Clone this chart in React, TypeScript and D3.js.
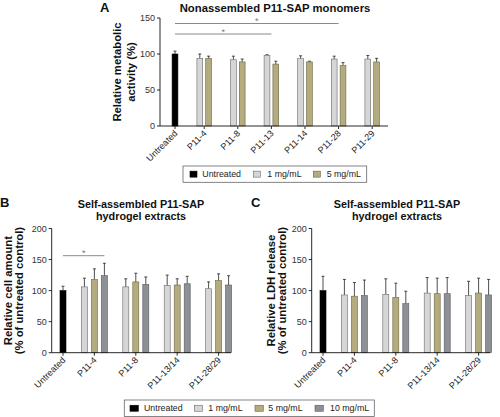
import React from "react";
import * as d3 from "d3";

// ---------- data ----------
const catsA = ["P11-4", "P11-8", "P11-13", "P11-14", "P11-28", "P11-29"];
const untreatedA = 100;
const untreatedAErr = 4;
const a1mg = [94, 92, 98, 93.5, 93, 93];
const a1mgErr = [6, 5, 1, 4, 4, 5];
const a5mg = [94, 89, 86, 89, 84, 89];
const a5mgErr = [3, 4, 4, 1, 4, 5];
const ticksA = [0, 50, 100, 150];
const sigA = [
  { to: "P11-28", level: 0 },
  { to: "P11-13", level: 1 },
];

const catsBC = ["P11-4", "P11-8", "P11-13/14", "P11-28/29"];
const untreatedB = 100;
const untreatedBErr = 7;
const b1mg = [106, 106, 108, 103];
const b1mgErr = [14, 13, 17, 11];
const b5mg = [118, 114, 109, 116];
const b5mgErr = [17, 14, 10, 11];
const b10mg = [124, 110, 111, 109];
const b10mgErr = [20, 12, 12, 15];

const untreatedC = 100;
const untreatedCErr = 23;
const c1mg = [93, 94, 96, 92];
const c1mgErr = [25, 25, 25, 23];
const c5mg = [91, 89, 95, 96];
const c5mgErr = [22, 23, 25, 24];
const c10mg = [92, 79, 95, 93];
const c10mgErr = [25, 20, 26, 25];
const ticksBC = [0, 50, 100, 150, 200];

const legendA = ["Untreated", "1 mg/mL", "5 mg/mL"];
const legendBC = ["Untreated", "1 mg/mL", "5 mg/mL", "10 mg/mL"];

// ---------- style ----------
const FONT = "'Liberation Sans', Arial, Helvetica, sans-serif";
const COLORS = ["#000000", "#d6d6d6", "#b4ac7e", "#8d9095"];
const STROKES = ["#000000", "#6a6a6a", "#6b6542", "#55585c"];

type Bar = { x: number; v: number; e: number; c: number };

function layout(
  x0: number,
  pad: number,
  s: number,
  g: number,
  untreated: number,
  untreatedErr: number,
  series: number[][],
  errs: number[][]
) {
  const bars: Bar[] = [];
  const ticks: number[] = [];
  let cur = x0 + pad;
  bars.push({ x: cur, v: untreated, e: untreatedErr, c: 0 });
  ticks.push(cur);
  cur += s / 2 + g;
  const n = series[0].length;
  for (let i = 0; i < n; i++) {
    const start = cur;
    for (let k = 0; k < series.length; k++) {
      bars.push({ x: cur + s / 2, v: series[k][i], e: errs[k][i], c: k + 1 });
      cur += s;
    }
    ticks.push((start + cur) / 2);
    cur += g;
  }
  return { bars, ticks };
}

type PanelProps = {
  letter: string;
  letterX: number;
  letterY: number;
  title: string[];
  titleX: number;
  titleY: number;
  titleSize: number;
  ylabel: string[];
  ylabelX: number[];
  ylabelY: number;
  ylabelSize: number;
  x0: number;
  x1: number;
  yTop: number;
  yBot: number;
  ymax: number;
  ticks: number[];
  cats: string[];
  bars: Bar[];
  tickX: number[];
  barW: number;
  sig: { from: number; to: number; y: number }[];
};

function Panel(p: PanelProps) {
  const y = d3.scaleLinear().domain([0, p.ymax]).range([p.yBot, p.yTop]);
  const labels = ["Untreated", ...p.cats];
  return (
    <g fontFamily={FONT}>
      <text x={p.letterX} y={p.letterY} fontSize={13} fontWeight="bold" fill="#111">
        {p.letter}
      </text>
      {p.title.map((t, i) => (
        <text
          key={i}
          x={p.titleX}
          y={p.titleY + i * 12}
          fontSize={p.titleSize}
          fontWeight="bold"
          textAnchor="middle"
          fill="#111"
        >
          {t}
        </text>
      ))}
      {p.ylabel.map((t, i) => (
        <text
          key={i}
          transform={`translate(${p.ylabelX[i]},${p.ylabelY}) rotate(-90)`}
          fontSize={p.ylabelSize}
          fontWeight="bold"
          textAnchor="middle"
          fill="#111"
        >
          {t}
        </text>
      ))}
      {/* y axis */}
      <line x1={p.x0} x2={p.x0} y1={y(0)} y2={y(p.ymax)} stroke="#111" strokeWidth={0.9} />
      {p.ticks.map((t) => (
        <g key={t}>
          <line x1={p.x0 - 3} x2={p.x0} y1={y(t)} y2={y(t)} stroke="#111" strokeWidth={0.9} />
          <text
            x={p.x0 - 5}
            y={y(t)}
            dy="0.35em"
            fontSize={9}
            textAnchor="end"
            fill="#333"
          >
            {t}
          </text>
        </g>
      ))}
      {/* bars */}
      {p.bars.map((b, i) => (
        <g key={i}>
          <line
            x1={b.x}
            x2={b.x}
            y1={y(b.v)}
            y2={y(b.v + b.e)}
            stroke="#222"
            strokeWidth={0.8}
          />
          <line
            x1={b.x - 1.5}
            x2={b.x + 1.5}
            y1={y(b.v + b.e)}
            y2={y(b.v + b.e)}
            stroke="#222"
            strokeWidth={0.8}
          />
          <rect
            x={b.x - p.barW / 2}
            y={y(b.v)}
            width={p.barW}
            height={y(0) - y(b.v)}
            fill={COLORS[b.c]}
            stroke={STROKES[b.c]}
            strokeWidth={0.6}
          />
        </g>
      ))}
      {/* x axis */}
      <line x1={p.x0} x2={p.x1} y1={y(0)} y2={y(0)} stroke="#111" strokeWidth={0.9} />
      {p.tickX.map((tx, i) => (
        <g key={i}>
          <line x1={tx} x2={tx} y1={y(0)} y2={y(0) + 3} stroke="#111" strokeWidth={0.9} />
          <text
            transform={`translate(${tx + 3},${y(0) + 8}) rotate(-45)`}
            fontSize={9}
            textAnchor="end"
            fill="#222"
          >
            {labels[i]}
          </text>
        </g>
      ))}
      {/* significance */}
      {p.sig.map((s, i) => (
        <g key={i}>
          <line x1={s.from} x2={s.to} y1={s.y} y2={s.y} stroke="#8a8a8a" strokeWidth={1} />
          <text
            x={(s.from + s.to) / 2}
            y={s.y + 0.5}
            fontSize={9}
            textAnchor="middle"
            fill="#777"
          >
            *
          </text>
        </g>
      ))}
    </g>
  );
}

function Legend({
  x,
  y,
  w,
  h,
  items,
  swX,
  txX,
  swW,
}: {
  x: number;
  y: number;
  w: number;
  h: number;
  items: string[];
  swX: number[];
  txX: number[];
  swW: number;
}) {
  const cy = y + h / 2;
  return (
    <g fontFamily={FONT}>
      <rect x={x} y={y} width={w} height={h} fill="#fff" stroke="#666" strokeWidth={0.8} />
      {items.map((t, i) => (
        <g key={t}>
          <rect
            x={x + swX[i]}
            y={cy - 3}
            width={swW}
            height={6}
            fill={COLORS[i]}
            stroke={STROKES[i]}
            strokeWidth={0.6}
          />
          <text x={x + txX[i]} y={cy} dy="0.35em" fontSize={8.8} fill="#222">
            {t}
          </text>
        </g>
      ))}
    </g>
  );
}

export default function App() {
  // Panel A
  const A = layout(160, 15, 8.8, 16, untreatedA, untreatedAErr, [a1mg, a5mg], [a1mgErr, a5mgErr]);
  const catIdx = (c: string) => catsA.indexOf(c) + 1;
  const sigAData = sigA.map((s) => ({
    from: A.ticks[0],
    to: A.ticks[catIdx(s.to)],
    y: 23.5 + s.level * 10.5,
  }));

  // Panel B
  const B = layout(
    51.7,
    11.3,
    10,
    11.4,
    untreatedB,
    untreatedBErr,
    [b1mg, b5mg, b10mg],
    [b1mgErr, b5mgErr, b10mgErr]
  );
  const lastP114 = B.bars[3].x;
  const sigBData = [{ from: B.ticks[0], to: lastP114, y: 255.7 }];

  // Panel C
  const C = layout(
    311.7,
    11.3,
    10,
    11.4,
    untreatedC,
    untreatedCErr,
    [c1mg, c5mg, c10mg],
    [c1mgErr, c5mgErr, c10mgErr]
  );

  return (
    <svg
      width={500}
      height={417}
      style={{ position: "absolute", left: 0, top: 0, background: "#fff" }}
    >
      <rect width={500} height={417} fill="#fff" />
      <Panel
        letter="A"
        letterX={100}
        letterY={12}
        title={["Nonassembled P11-SAP monomers"]}
        titleX={275}
        titleY={11.5}
        titleSize={11.3}
        ylabel={["Relative metabolic", "activity (%)"]}
        ylabelX={[121, 135]}
        ylabelY={72}
        ylabelSize={11.3}
        x0={160}
        x1={388}
        yTop={18}
        yBot={126}
        ymax={150}
        ticks={ticksA}
        cats={catsA}
        bars={A.bars}
        tickX={A.ticks}
        barW={5.8}
        sig={sigAData}
      />
      <Panel
        letter="B"
        letterX={0}
        letterY={207}
        title={["Self-assembled P11-SAP", "hydrogel extracts"]}
        titleX={141}
        titleY={208}
        titleSize={10.8}
        ylabel={["Relative cell amount", "(% of untreated control)"]}
        ylabelX={[11.7, 23]}
        ylabelY={290.6}
        ylabelSize={11.3}
        x0={51.7}
        x1={231}
        yTop={228.5}
        yBot={352.7}
        ymax={200}
        ticks={ticksBC}
        cats={catsBC}
        bars={B.bars}
        tickX={B.ticks}
        barW={6}
        sig={sigBData}
      />
      <Panel
        letter="C"
        letterX={251}
        letterY={207}
        title={["Self-assembled P11-SAP", "hydrogel extracts"]}
        titleX={397}
        titleY={208}
        titleSize={10.8}
        ylabel={["Relative LDH release", "(% of untreated control)"]}
        ylabelX={[274.5, 286]}
        ylabelY={290.6}
        ylabelSize={11.3}
        x0={311.7}
        x1={490}
        yTop={228.5}
        yBot={352.7}
        ymax={200}
        ticks={ticksBC}
        cats={catsBC}
        bars={C.bars}
        tickX={C.ticks}
        barW={6}
        sig={[]}
      />
      <Legend
        x={183}
        y={166}
        w={183.7}
        h={16.3}
        items={legendA}
        swX={[7, 70.3, 130.3]}
        txX={[19.3, 84.3, 143.7]}
        swW={7}
      />
      <Legend
        x={124.3}
        y={400}
        w={250}
        h={16.5}
        items={legendBC}
        swX={[5.7, 70, 130.7, 190.7]}
        txX={[19.7, 84, 144, 205.7]}
        swW={8.3}
      />
    </svg>
  );
}
